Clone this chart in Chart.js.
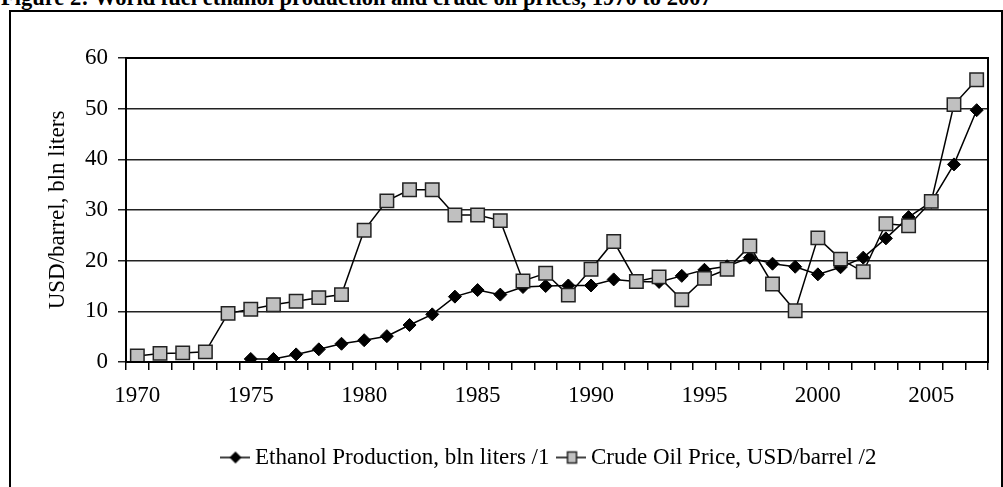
<!DOCTYPE html>
<html>
<head>
<meta charset="utf-8">
<script src="https://cdn.jsdelivr.net/npm/chart.js@4"></script>
<style>
    html, body { margin: 0; padding: 0; background: #fff; overflow: hidden; }
    body { width: 1003px; height: 487px; position: relative; }
    #fig-title {
        position: absolute; left: 1px; top: -13px; margin: 0;
        font: bold 22.5px "Liberation Serif", "DejaVu Serif", serif; line-height: 1; white-space: nowrap;
    }
    #frame {
        position: absolute; left: 9px; top: 10px; width: 990px; height: 500px;
        border: 2px solid #000;
    }
    #chart { position: absolute; left: 0; top: 0; }
</style>
</head>
<body>
<div id="fig-title">Figure 2: World fuel ethanol production and crude oil prices, 1970 to 2007</div>
<div id="frame"></div>
<canvas id="chart" width="1003" height="487"></canvas>
<script>
// years on the x axis
var years = [];
for (var y = 1970; y <= 2007; y++) years.push(String(y));

// world fuel ethanol production, bln liters (starts 1975)
var ethanol = [null, null, null, null, null,
    0.6, 0.6, 1.5, 2.5, 3.6, 4.3, 5.1, 7.3, 9.4, 12.9,
    14.2, 13.3, 14.8, 15.0, 15.1, 15.1, 16.3, 15.9, 15.8, 17.0,
    18.2, 18.9, 20.6, 19.4, 18.8, 17.3, 18.7, 20.6, 24.4, 28.6,
    31.6, 39.0, 49.7];

// crude oil price, USD/barrel
var oil = [1.2, 1.7, 1.8, 2.0, 9.6,
    10.4, 11.3, 12.0, 12.7, 13.3, 26.0, 31.8, 34.0, 34.0, 29.0,
    29.0, 27.9, 16.0, 17.5, 13.2, 18.3, 23.8, 15.9, 16.8, 12.3,
    16.5, 18.3, 22.9, 15.4, 10.1, 24.5, 20.3, 17.8, 27.3, 26.9,
    31.7, 50.8, 55.7];

var yTicks = [0, 10, 20, 30, 40, 50, 60];

var FONT = { family: '"Liberation Serif", "DejaVu Serif", serif', size: 23 };

// little "line + marker" images for the legend
function legendIcon(kind) {
    var c = document.createElement('canvas');
    c.width = 30; c.height = 16;
    var ctx = c.getContext('2d');
    ctx.strokeStyle = '#000';
    ctx.lineWidth = 1.5;
    ctx.beginPath(); ctx.moveTo(0, 8); ctx.lineTo(30, 8); ctx.stroke();
    if (kind === 'diamond') {
        ctx.fillStyle = '#000';
        ctx.beginPath();
        ctx.moveTo(15, 2); ctx.lineTo(21, 8); ctx.lineTo(15, 14); ctx.lineTo(9, 8);
        ctx.closePath(); ctx.fill();
    } else {
        ctx.fillStyle = '#c0c0c0';
        ctx.fillRect(11, 2.5, 9, 11);
        ctx.strokeStyle = '#222';
        ctx.strokeRect(11, 2.5, 9, 11);
    }
    return c;
}
var icons = { oil: legendIcon('square'), ethanol: legendIcon('diamond') };

// frame round the plot area (top and right edges)
var plotFrame = {
    id: 'plotFrame',
    afterDraw: function (chart) {
        var a = chart.chartArea, ctx = chart.ctx;
        ctx.save();
        ctx.strokeStyle = '#000';
        ctx.lineWidth = 2;
        ctx.strokeRect(a.left, a.top, a.right - a.left, a.bottom - a.top);
        ctx.restore();
    }
};

// the legend sits under the plot area rather than under the whole canvas
var legendShift = {
    id: 'legendShift',
    afterLayout: function (chart) {
        if (!chart.legend) return;
        chart.legend.left += 58;
        chart.legend.right += 58;
    }
};

new Chart(document.getElementById('chart').getContext('2d'), {
    type: 'line',
    data: {
        labels: years,
        datasets: [
            {
                label: 'Crude Oil Price, USD/barrel /2', data: oil,
                borderColor: '#000', borderWidth: 1.5, tension: 0,
                pointStyle: 'rect', pointRadius: 9.5, pointHoverRadius: 9.5,
                pointBackgroundColor: '#c0c0c0', pointBorderColor: '#222', pointBorderWidth: 1.5
            },
            {
                label: 'Ethanol Production, bln liters /1', data: ethanol,
                borderColor: '#000', borderWidth: 1.5, tension: 0,
                pointStyle: 'rectRot', pointRadius: 6.5, pointHoverRadius: 6.5,
                pointBackgroundColor: '#000', pointBorderColor: '#000', pointBorderWidth: 1
            }
        ]
    },
    options: {
        responsive: false,
        animation: false,
        layout: { padding: { top: 58, left: 0, right: 15, bottom: 8 } },
        plugins: {
            tooltip: { enabled: false },
            legend: {
                position: 'bottom',
                labels: {
                    color: '#000', font: FONT,
                    usePointStyle: true, pointStyleWidth: 16, padding: 14,
                    sort: function (a, b) { return b.datasetIndex - a.datasetIndex; },
                    generateLabels: function (chart) {
                        var items = Chart.defaults.plugins.legend.labels.generateLabels(chart);
                        items.forEach(function (it) {
                            it.pointStyle = it.datasetIndex === 0 ? icons.oil : icons.ethanol;
                        });
                        return items;
                    }
                }
            }
        },
        scales: {
            x: {
                type: 'category',
                offset: true,
                border: { color: '#000', width: 2 },
                grid: { drawOnChartArea: false, drawTicks: true, tickLength: 8, offset: true, color: '#000', lineWidth: 1.5 },
                ticks: {
                    color: '#000', font: FONT, autoSkip: false, maxRotation: 0, padding: 12,
                    callback: function (v, i) { var yr = +years[i]; return yr % 5 === 0 ? years[i] : ''; }
                },
                afterFit: function (s) { s.height = 70; }
            },
            y: {
                min: 0, max: 60,
                border: { color: '#000', width: 2 },
                grid: { color: '#222', lineWidth: 1.5, tickLength: 8 },
                ticks: { color: '#000', font: FONT, padding: 10, stepSize: 10,
                    callback: function (v) { return yTicks.indexOf(v) >= 0 ? String(v) : ''; } },
                title: { display: true, text: 'USD/barrel, bln liters', color: '#000', font: FONT, padding: { top: 44, bottom: 0 } },
                afterFit: function (s) { s.width = 126; }
            }
        }
    },
    plugins: [plotFrame, legendShift]
});
</script>
</body>
</html>
